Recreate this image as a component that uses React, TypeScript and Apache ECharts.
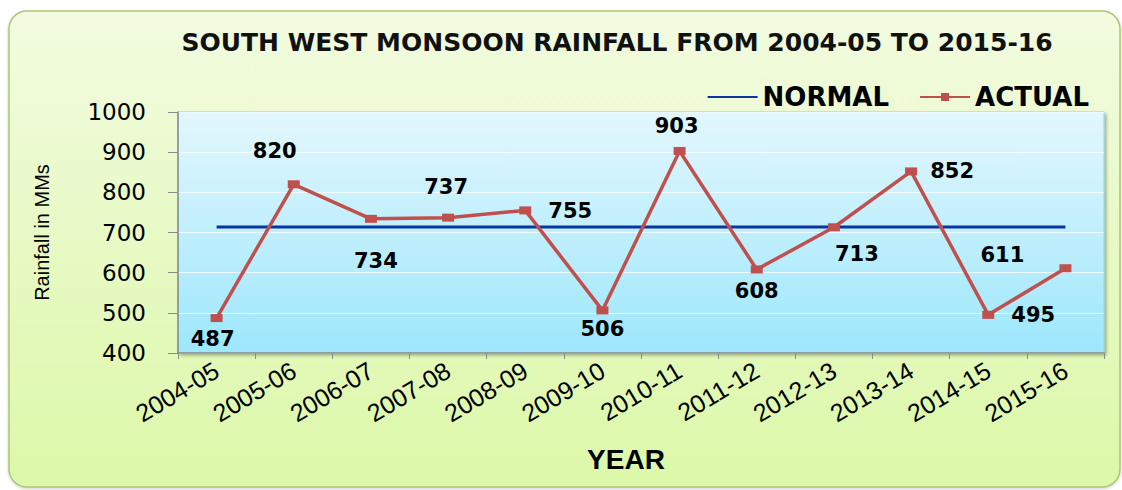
import React, { useEffect, useRef } from 'react';
import * as echarts from 'echarts';

const categories = ['2004-05', '2005-06', '2006-07', '2007-08', '2008-09', '2009-10', '2010-11', '2011-12', '2012-13', '2013-14', '2014-15', '2015-16'];
const actual = [487, 820, 734, 737, 755, 506, 903, 608, 713, 852, 495, 611];
const normal = [713.5, 713.5, 713.5, 713.5, 713.5, 713.5, 713.5, 713.5, 713.5, 713.5, 713.5, 713.5];
const normalLabel = '713.5';
const yMin = 400;
const yMax = 1000;
const yStep = 100;

// label placement (layout only)
const actualLabelOffsets: [number, number][] = [
  [-4, 21], [-19, -33], [5, 42], [-2, -31], [45, 1], [0, 19],
  [-3, -25], [0, 22], [23, 27], [41, 0], [45, 0], [-63, -13],
];

export default function App() {
  const ref = useRef<HTMLDivElement>(null);
  useEffect(() => {
    document.body.style.margin = '0';
    const chart = echarts.init(ref.current!, null, { renderer: 'svg' });
    const labelFont = { fontFamily: 'DejaVu Sans', fontWeight: 'bold', fontSize: 21, color: '#000' };
    chart.setOption({
      animation: false,
      graphic: [
        {
          type: 'rect',
          z: -10,
          silent: true,
          shape: { x: 9, y: 11, width: 1111, height: 476, r: 18 },
          style: {
            fill: new echarts.graphic.LinearGradient(0, 0, 0, 1, [
              { offset: 0, color: '#f2fbe0' },
              { offset: 1, color: '#dcf8a8' },
            ]),
            stroke: '#a9c872',
            lineWidth: 1.5,
            shadowBlur: 3,
            shadowColor: 'rgba(0,0,0,0.2)',
            shadowOffsetY: 1,
          },
        },
      ],
      title: {
        text: 'SOUTH WEST MONSOON RAINFALL FROM 2004-05 TO 2015-16',
        left: 612,
        textAlign: 'center',
        top: 25,
        textStyle: { fontFamily: 'DejaVu Sans', fontWeight: 'bold', fontSize: 25, color: '#111' },
      },
      legend: {
        right: 28,
        top: 79,
        itemWidth: 50,
        itemHeight: 10,
        itemGap: 30,
        textStyle: { fontFamily: 'DejaVu Sans', fontWeight: 'bold', fontSize: 26, color: '#000' },
        data: [
          { name: 'NORMAL', itemStyle: { color: 'rgba(0,0,0,0)', borderColor: 'rgba(0,0,0,0)', borderWidth: 0 } },
          { name: 'ACTUAL' },
        ],
      },
      grid: {
        left: 178,
        right: 18,
        top: 112,
        bottom: 137,
        show: true,
        borderColor: '#8fd2e8',
        borderWidth: 1,
        backgroundColor: new echarts.graphic.LinearGradient(0, 0, 0, 1, [
          { offset: 0, color: '#e3f7fd' },
          { offset: 1, color: '#9de7fc' },
        ]),
        shadowColor: 'rgba(0,0,0,0.3)',
        shadowBlur: 3,
        shadowOffsetX: 2,
        shadowOffsetY: 2,
      },
      xAxis: {
        type: 'category',
        data: categories,
        boundaryGap: true,
        name: 'YEAR',
        nameLocation: 'middle',
        nameGap: 92,
        nameTextStyle: { fontFamily: 'Liberation Sans', fontWeight: 'bold', fontSize: 28, color: '#000', padding: [0, 30, 0, 0] },
        axisLine: { show: true, lineStyle: { color: '#8a8a8a', width: 1.5 } },
        axisTick: { show: true, length: 6, alignWithLabel: false, lineStyle: { color: '#8a8a8a' } },
        axisLabel: { rotate: 31, margin: 15, fontFamily: 'Liberation Sans', fontSize: 25, color: '#000' },
        splitLine: { show: false },
      },
      yAxis: {
        type: 'value',
        min: yMin,
        max: yMax,
        interval: yStep,
        name: 'Rainfall in MMs',
        nameLocation: 'middle',
        nameRotate: 90,
        nameGap: 126,
        nameTextStyle: { fontFamily: 'Liberation Sans', fontSize: 20, color: '#000' },
        axisLine: { show: true, lineStyle: { color: '#8a8a8a', width: 1.5 } },
        axisTick: { show: true, length: 10, lineStyle: { color: '#8a8a8a' } },
        axisLabel: {
          margin: 32,
          fontFamily: 'DejaVu Sans',
          fontSize: 23,
          color: '#000',
          formatter: (v: number) => String(v),
        },
        splitLine: { show: true, lineStyle: { color: 'rgba(255,255,255,0.75)', width: 1 } },
      },
      series: [
        {
          name: 'NORMAL',
          type: 'line',
          symbol: 'none',
          lineStyle: { color: '#0a35a0', width: 3 },
          itemStyle: { color: '#0a35a0' },
          data: normal.map((v, i) =>
            i === normal.length - 1
              ? {
                  value: v,
                  label: {
                    show: true,
                    position: 'inside',
                    offset: [-26, -17],
                    formatter: normalLabel,
                    ...labelFont,
                    color: '#107a10',
                  },
                }
              : v
          ),
          z: 2,
        },
        {
          name: 'ACTUAL',
          type: 'line',
          symbol: 'rect',
          symbolSize: [12, 8],
          lineStyle: { color: '#c0504d', width: 3.5 },
          itemStyle: { color: '#c0504d' },
          label: {
            show: true,
            position: 'inside',
            align: 'center',
            verticalAlign: 'middle',
            ...labelFont,
          },
          data: actual.map((v, i) => ({ value: v, label: { offset: actualLabelOffsets[i] } })),
          z: 3,
        },
      ],
    });
    return () => chart.dispose();
  }, []);
  return <div ref={ref} style={{ width: 1122, height: 490 }} />;
}
